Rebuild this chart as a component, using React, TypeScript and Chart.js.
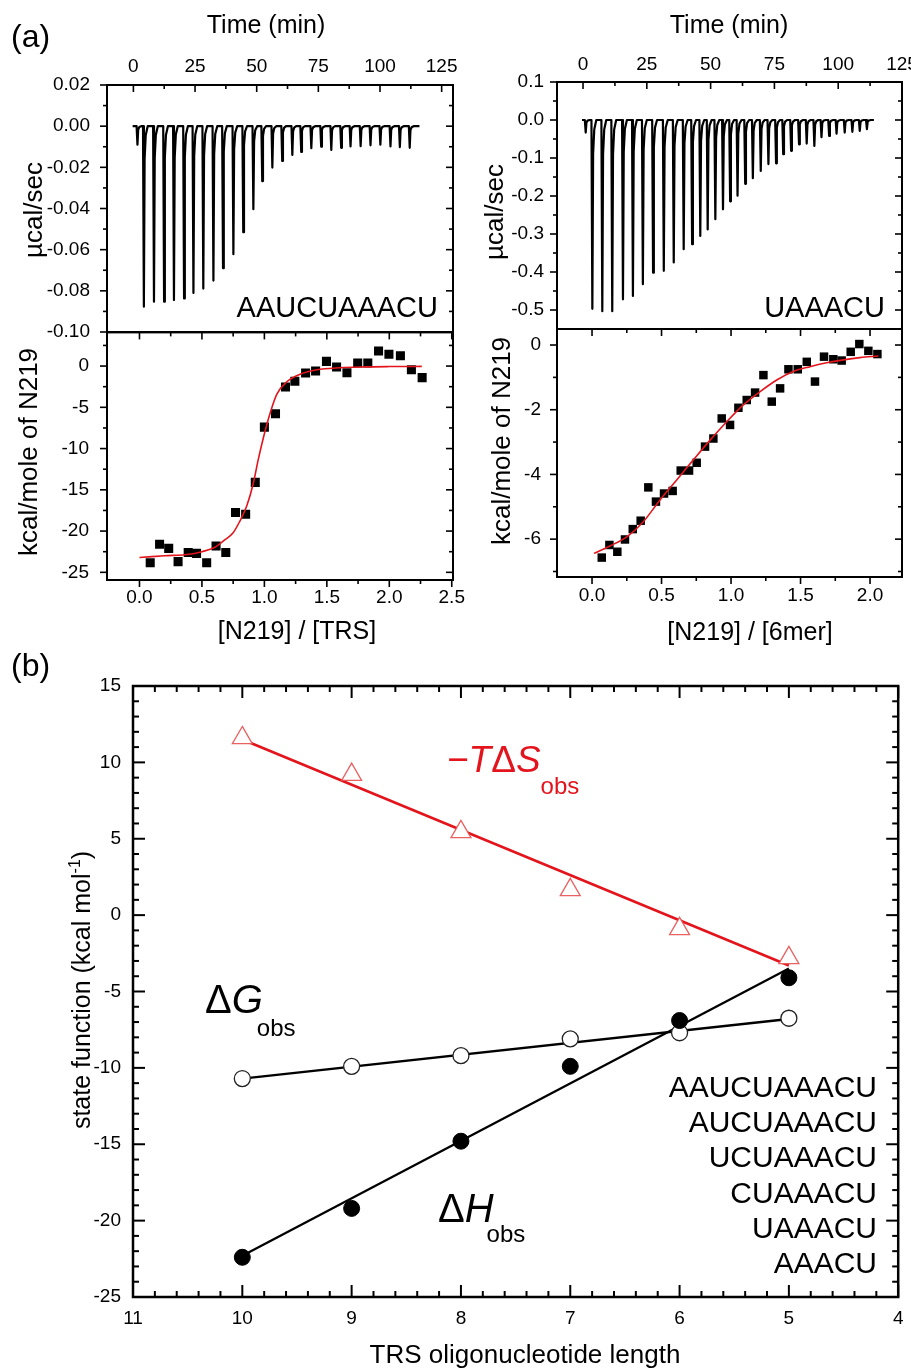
import React, { useEffect, useRef } from "react";
import { Chart, registerables } from "chart.js";

Chart.register(...registerables);

const FONT = "'Liberation Sans', Arial, Helvetica, sans-serif";
const RED = "#e3141c";
const TICK_FONT = 19;

// ================= (a) left : raw heat trace (AAUCUAAACU) =================
const timeTickValues = [0, 25, 50, 75, 100, 125];
const timeTickLabels = ["0", "25", "50", "75", "100", "125"];
const timeMinorTicks = [12.5, 37.5, 62.5, 87.5, 112.5];

const rawLeftInjectionTimes = [1.4, 4.0, 8.1, 12.2, 16.2, 20.3, 24.1, 28.1, 32.2, 36.1, 40.3, 44.3, 48.4, 52.0, 56.1, 60.1, 64.2, 67.8, 71.9, 75.9, 80.0, 84.0, 87.8, 91.9, 95.9, 99.9, 104.0, 107.8, 111.8];
const rawLeftPeaks = [-0.009, -0.0877, -0.0853, -0.0853, -0.0845, -0.0837, -0.081, -0.0789, -0.075, -0.069, -0.0622, -0.0515, -0.0403, -0.0267, -0.0201, -0.0169, -0.014, -0.0125, -0.0107, -0.01, -0.0115, -0.0105, -0.0098, -0.0097, -0.0093, -0.009, -0.0098, -0.0102, -0.0105];
const rawLeftTraceStart = -0.3;
const rawLeftTraceEnd = 116;
const rawLeftYTickValues = [-0.1, -0.08, -0.06, -0.04, -0.02, 0, 0.02];
const rawLeftYTickLabels = ["-0.10", "-0.08", "-0.06", "-0.04", "-0.02", "0.00", "0.02"];
const rawLeftYMinor = [-0.09, -0.07, -0.05, -0.03, -0.01, 0.01];

// ================= (a) left : integrated heats =================
const isoLeftRatio = [0.086, 0.161, 0.234, 0.309, 0.39, 0.457, 0.538, 0.613, 0.691, 0.769, 0.85, 0.927, 1.0, 1.089, 1.169, 1.244, 1.33, 1.41, 1.497, 1.578, 1.661, 1.747, 1.828, 1.914, 1.997, 2.089, 2.177, 2.263];
const isoLeftHeat = [-23.85, -21.6, -22.1, -23.7, -22.6, -22.7, -23.85, -21.8, -22.6, -17.75, -17.95, -14.1, -7.4, -5.77, -2.54, -1.85, -0.85, -0.6, 0.57, -0.12, -0.8, 0.36, 0.36, 1.82, 1.42, 1.26, -0.44, -1.4];
const isoLeftFitRatio = [0.0, 0.2, 0.4, 0.5, 0.6, 0.68, 0.75, 0.8, 0.86, 0.91, 0.95, 1.0, 1.05, 1.1, 1.18, 1.29, 1.42, 1.6, 1.8, 2.0, 2.26];
const isoLeftFitHeat = [-23.2, -23.0, -22.8, -22.5, -22.0, -21.1, -20.2, -18.9, -16.9, -14.3, -11.4, -8.2, -5.5, -3.4, -1.9, -0.97, -0.45, -0.2, -0.1, -0.06, -0.04];
const isoLeftXTickValues = [0, 0.5, 1, 1.5, 2, 2.5];
const isoLeftXTickLabels = ["0.0", "0.5", "1.0", "1.5", "2.0", "2.5"];
const isoLeftXMinor = [0.25, 0.75, 1.25, 1.75, 2.25];
const isoLeftYTickValues = [-25, -20, -15, -10, -5, 0];
const isoLeftYTickLabels = ["-25", "-20", "-15", "-10", "-5", "0"];
const isoLeftYMinor = [-22.5, -17.5, -12.5, -7.5, -2.5, 2.5];

// ================= (a) right : raw heat trace (UAAACU) =================
const rawRightInjectionTimes = [0.8, 3.4, 7.3, 11.2, 15.4, 19.3, 23.2, 27.2, 31.4, 35.3, 39.2, 42.5, 45.7, 48.6, 51.6, 54.6, 57.4, 60.3, 63.3, 66.3, 69.4, 72.4, 75.4, 78.2, 81.3, 84.4, 87.4, 90.4, 93.2, 96.2, 99.1, 102.3, 105.3, 108.2, 111.0];
const rawRightPeaks = [-0.033, -0.497, -0.503, -0.503, -0.472, -0.463, -0.432, -0.402, -0.397, -0.375, -0.34, -0.327, -0.305, -0.288, -0.261, -0.235, -0.214, -0.199, -0.168, -0.153, -0.134, -0.116, -0.114, -0.09, -0.081, -0.064, -0.062, -0.068, -0.045, -0.042, -0.036, -0.033, -0.031, -0.029, -0.024];
const rawRightTraceStart = -0.4;
const rawRightTraceEnd = 114;
const rawRightYTickValues = [-0.5, -0.4, -0.3, -0.2, -0.1, 0, 0.1];
const rawRightYTickLabels = ["-0.5", "-0.4", "-0.3", "-0.2", "-0.1", "0.0", "0.1"];
const rawRightYMinor = [-0.45, -0.35, -0.25, -0.15, -0.05, 0.05];

// ================= (a) right : integrated heats =================
const isoRightRatio = [0.07, 0.125, 0.182, 0.237, 0.293, 0.35, 0.405, 0.46, 0.518, 0.58, 0.638, 0.698, 0.753, 0.813, 0.873, 0.933, 0.993, 1.053, 1.113, 1.173, 1.233, 1.293, 1.353, 1.413, 1.48, 1.545, 1.604, 1.669, 1.736, 1.796, 1.861, 1.923, 1.988, 2.053];
const isoRightHeat = [-6.57, -6.18, -6.39, -6.01, -5.69, -5.43, -4.4, -4.84, -4.59, -4.51, -3.88, -3.88, -3.64, -3.14, -2.89, -2.27, -2.47, -1.94, -1.7, -1.47, -0.93, -1.75, -1.34, -0.75, -0.75, -0.52, -1.13, -0.36, -0.44, -0.48, -0.21, 0.03, -0.18, -0.28];
const isoRightFitRatio = [0.014, 0.129, 0.25, 0.369, 0.489, 0.609, 0.729, 0.849, 0.969, 1.089, 1.209, 1.329, 1.448, 1.568, 1.688, 1.808, 1.928, 2.06];
const isoRightFitHeat = [-6.44, -6.21, -5.93, -5.46, -4.79, -4.17, -3.55, -2.94, -2.37, -1.85, -1.44, -1.08, -0.82, -0.67, -0.55, -0.46, -0.39, -0.34];
const isoRightXTickValues = [0, 0.5, 1, 1.5, 2];
const isoRightXTickLabels = ["0.0", "0.5", "1.0", "1.5", "2.0"];
const isoRightXMinor = [0.25, 0.75, 1.25, 1.75];
const isoRightYTickValues = [-6, -4, -2, 0];
const isoRightYTickLabels = ["-6", "-4", "-2", "0"];
const isoRightYMinor = [-7, -5, -3, -1];

// ================= (b) state functions vs TRS length =================
const trsLength = [10, 9, 8, 7, 6, 5];
const minusTdS = [11.6, 9.2, 5.45, 1.65, -0.9, -2.8];
const deltaG = [-10.7, -9.9, -9.2, -8.1, -7.7, -6.75];
const deltaH = [-22.4, -19.2, -14.8, -9.9, -6.9, -4.1];
const fitLength = [10, 5];
const fitMinusTdS = [11.5, -3.3];
const fitDeltaG = [-10.7, -6.8];
const fitDeltaH = [-22.3, -3.5];
const trsSequences = ["AAUCUAAACU", "AUCUAAACU", "UCUAAACU", "CUAAACU", "UAAACU", "AAACU"];
const bXTickValues = [4, 5, 6, 7, 8, 9, 10, 11];
const bXTickLabels = ["4", "5", "6", "7", "8", "9", "10", "11"];
const bYTickValues = [-25, -20, -15, -10, -5, 0, 5, 10, 15];
const bYTickLabels = ["-25", "-20", "-15", "-10", "-5", "0", "5", "10", "15"];

const bXMinor: number[] = [];
for (let i = 4; i < 11; i++) for (let k = 1; k < 5; k++) bXMinor.push(i + k * 0.2);
const bYMinor: number[] = [];
for (let v = -24; v < 15; v++) if (v % 5 !== 0) bYMinor.push(v);

// ---------------- helpers ----------------
function xy(xs: number[], ys: number[]) {
  return xs.map((x, i) => ({ x, y: ys[i] }));
}

// heat-trace line: baseline with a sharp spike at each injection time
function buildTrace(start: number, end: number, times: number[], peaks: number[]) {
  const pts: { x: number; y: number }[] = [{ x: start, y: 0 }];
  times.forEach((t, i) => {
    const d = peaks[i];
    pts.push({ x: t - 0.1, y: 0 });
    pts.push({ x: t + 0.25, y: d });
    pts.push({ x: t + 0.55, y: d * 0.18 });
    pts.push({ x: t + 1.0, y: d * 0.05 });
    pts.push({ x: t + 1.8, y: 0 });
  });
  pts.push({ x: end, y: 0 });
  return pts;
}

function axis(position: string, min: number, max: number, values: number[], labels: string[], size: number, pad: number, reverse = false) {
  return {
    type: "linear",
    position,
    min,
    max,
    reverse,
    bounds: "data",
    grid: { display: false, drawTicks: false },
    border: { display: false },
    ticks: {
      font: { size: TICK_FONT, family: FONT },
      color: "#000",
      padding: pad,
      autoSkip: false,
      maxRotation: 0,
      minRotation: 0,
      callback: (_v: any, i: number) => labels[i],
    },
    afterBuildTicks: (s: any) => {
      s.ticks = values.map((v) => ({ value: v }));
    },
    afterFit: (s: any) => {
      if (s.isHorizontal()) s.height = size;
      else s.width = size;
      s.paddingLeft = 0;
      s.paddingRight = 0;
      s.paddingTop = 0;
      s.paddingBottom = 0;
    },
  };
}

type FrameCfg = {
  frameWidth: number;
  tickWidth: number;
  majorLen: number;
  minorLen: number;
  x: { major: number[]; minor: number[]; top?: string; bottom?: string };
  y: { major: number[]; minor: number[]; left?: string; right?: string };
};

function makeFramePlugin(cfg: FrameCfg) {
  return {
    id: "frameTicks",
    afterDatasetsDraw(chart: any) {
      const { ctx, chartArea: a, scales } = chart;
      const xs = scales.x;
      const ys = scales.y;
      ctx.save();
      ctx.strokeStyle = "#000";
      ctx.lineCap = "butt";
      const seg = (x1: number, y1: number, x2: number, y2: number) => {
        ctx.beginPath();
        ctx.moveTo(x1, y1);
        ctx.lineTo(x2, y2);
        ctx.stroke();
      };
      ctx.lineWidth = cfg.tickWidth;
      const xSide = (vals: number[], len: number, side: string, mode?: string) => {
        if (!mode) return;
        vals.forEach((v) => {
          const p = xs.getPixelForValue(v);
          if (p < a.left - 0.5 || p > a.right + 0.5) return;
          const y0 = side === "top" ? a.top : a.bottom;
          const dir = (side === "top" ? 1 : -1) * (mode === "in" ? 1 : -1);
          seg(p, y0, p, y0 + dir * len);
        });
      };
      const ySide = (vals: number[], len: number, side: string, mode?: string) => {
        if (!mode) return;
        vals.forEach((v) => {
          const p = ys.getPixelForValue(v);
          if (p < a.top - 0.5 || p > a.bottom + 0.5) return;
          const x0 = side === "left" ? a.left : a.right;
          const dir = (side === "left" ? 1 : -1) * (mode === "in" ? 1 : -1);
          seg(x0, p, x0 + dir * len, p);
        });
      };
      xSide(cfg.x.major, cfg.majorLen, "top", cfg.x.top);
      xSide(cfg.x.minor, cfg.minorLen, "top", cfg.x.top);
      xSide(cfg.x.major, cfg.majorLen, "bottom", cfg.x.bottom);
      xSide(cfg.x.minor, cfg.minorLen, "bottom", cfg.x.bottom);
      ySide(cfg.y.major, cfg.majorLen, "left", cfg.y.left);
      ySide(cfg.y.minor, cfg.minorLen, "left", cfg.y.left);
      ySide(cfg.y.major, cfg.majorLen, "right", cfg.y.right);
      ySide(cfg.y.minor, cfg.minorLen, "right", cfg.y.right);
      ctx.lineWidth = cfg.frameWidth;
      ctx.strokeRect(a.left, a.top, a.right - a.left, a.bottom - a.top);
      ctx.restore();
    },
  };
}

type Run = { t: string; size: number; italic?: boolean; dx?: number; dy?: number };
type TextItem = { x: number; y: number; align?: string; rot?: number; color?: string; runs: Run[] };

function makeTextPlugin(items: TextItem[]) {
  return {
    id: "texts",
    afterDraw(chart: any) {
      const ctx = chart.ctx;
      items.forEach((it) => {
        ctx.save();
        ctx.translate(it.x, it.y);
        if (it.rot) ctx.rotate(it.rot);
        ctx.fillStyle = it.color || "#000";
        ctx.textBaseline = "alphabetic";
        ctx.textAlign = "left";
        const fontOf = (r: Run) => `${r.italic ? "italic " : ""}${r.size}px ${FONT}`;
        let total = 0;
        it.runs.forEach((r) => {
          ctx.font = fontOf(r);
          total += ctx.measureText(r.t).width + (r.dx || 0);
        });
        let cx = it.align === "center" ? -total / 2 : it.align === "right" ? -total : 0;
        it.runs.forEach((r) => {
          ctx.font = fontOf(r);
          cx += r.dx || 0;
          ctx.fillText(r.t, cx, r.dy || 0);
          cx += ctx.measureText(r.t).width;
        });
        ctx.restore();
      });
    },
  };
}

const T = (t: string, size: number, extra: Partial<Run> = {}): Run => ({ t, size, ...extra });
const ROT = -Math.PI / 2;

const baseOptions = (padding: any, scales: any) => ({
  responsive: false,
  animation: false,
  events: [],
  layout: { padding },
  plugins: { legend: { display: false }, tooltip: { enabled: false }, title: { display: false } },
  scales,
});

// ---------------- chart configs ----------------
const configRawLeft = () => ({
  type: "line",
  data: {
    datasets: [
      {
        data: buildTrace(rawLeftTraceStart, rawLeftTraceEnd, rawLeftInjectionTimes, rawLeftPeaks),
        borderColor: "#000",
        borderWidth: 2.2,
        pointRadius: 0,
        tension: 0,
        borderJoinStyle: "round",
      },
    ],
  },
  options: baseOptions({ left: 0, top: 0, right: 17, bottom: 14 }, {
    x: axis("top", -10.7, 129.6, timeTickValues, timeTickLabels, 85, 7),
    y: axis("left", -0.1, 0.02, rawLeftYTickValues, rawLeftYTickLabels, 107, 17),
  }),
  plugins: [
    makeFramePlugin({
      frameWidth: 2, tickWidth: 1.6, majorLen: 7, minorLen: 4,
      x: { major: timeTickValues, minor: timeMinorTicks, top: "in" },
      y: { major: rawLeftYTickValues, minor: rawLeftYMinor, left: "out", right: "in" },
    }),
    makeTextPlugin([
      { x: 11, y: 47, runs: [T("(a)", 32)] },
      { x: 266, y: 33, align: "center", runs: [T("Time (min)", 25)] },
      { x: 42, y: 210, align: "center", rot: ROT, runs: [T("µcal/sec", 26)] },
      { x: 438, y: 317, align: "right", runs: [T(trsSequences[0], 29)] },
    ]),
  ],
});

const configIsoLeft = () => ({
  type: "scatter",
  data: {
    datasets: [
      {
        data: xy(isoLeftFitRatio, isoLeftFitHeat),
        showLine: true,
        borderColor: RED,
        borderWidth: 1.6,
        pointRadius: 0,
        cubicInterpolationMode: "monotone",
      },
      {
        data: xy(isoLeftRatio, isoLeftHeat),
        pointStyle: "rect",
        pointRadius: 6.4,
        backgroundColor: "#000",
        borderWidth: 0,
      },
    ],
  },
  options: baseOptions({ left: 0, top: 6, right: 17, bottom: 0 }, {
    x: axis("bottom", -0.26, 2.51, isoLeftXTickValues, isoLeftXTickLabels, 76, 6),
    y: axis("left", -25.93, 4.08, isoLeftYTickValues, isoLeftYTickLabels, 107, 18),
  }),
  plugins: [
    makeFramePlugin({
      frameWidth: 2, tickWidth: 1.6, majorLen: 7, minorLen: 4,
      x: { major: isoLeftXTickValues, minor: isoLeftXMinor, top: "in", bottom: "out" },
      y: { major: isoLeftYTickValues, minor: isoLeftYMinor, left: "out", right: "in" },
    }),
    makeTextPlugin([
      { x: 297, y: 313, align: "center", runs: [T("[N219] / [TRS]", 25)] },
      { x: 37, y: 126, align: "center", rot: ROT, runs: [T("kcal/mole of N219", 26)] },
    ]),
  ],
});

const configRawRight = () => ({
  type: "line",
  data: {
    datasets: [
      {
        data: buildTrace(rawRightTraceStart, rawRightTraceEnd, rawRightInjectionTimes, rawRightPeaks),
        borderColor: "#000",
        borderWidth: 2.2,
        pointRadius: 0,
        tension: 0,
        borderJoinStyle: "round",
      },
    ],
  },
  options: baseOptions({ left: 0, top: 0, right: 9, bottom: 5 }, {
    x: axis("top", -10.2, 125, timeTickValues, timeTickLabels, 82, 6),
    y: axis("left", -0.55, 0.1, rawRightYTickValues, rawRightYTickLabels, 97, 13),
  }),
  plugins: [
    makeFramePlugin({
      frameWidth: 2, tickWidth: 1.6, majorLen: 7, minorLen: 4,
      x: { major: timeTickValues, minor: timeMinorTicks, top: "in" },
      y: { major: rawRightYTickValues, minor: rawRightYMinor, left: "out", right: "in" },
    }),
    makeTextPlugin([
      { x: 269, y: 33, align: "center", runs: [T("Time (min)", 25)] },
      { x: 43, y: 212, align: "center", rot: ROT, runs: [T("µcal/sec", 26)] },
      { x: 425, y: 317, align: "right", runs: [T(trsSequences[4], 29)] },
    ]),
  ],
});

const configIsoRight = () => ({
  type: "scatter",
  data: {
    datasets: [
      {
        data: xy(isoRightFitRatio, isoRightFitHeat),
        showLine: true,
        borderColor: RED,
        borderWidth: 1.6,
        pointRadius: 0,
        cubicInterpolationMode: "monotone",
      },
      {
        data: xy(isoRightRatio, isoRightHeat),
        pointStyle: "rect",
        pointRadius: 6,
        backgroundColor: "#000",
        borderWidth: 0,
      },
    ],
  },
  options: baseOptions({ left: 0, top: 6, right: 9, bottom: 0 }, {
    x: axis("bottom", -0.252, 2.23, isoRightXTickValues, isoRightXTickLabels, 79, 7),
    y: axis("left", -7.17, 0.495, isoRightYTickValues, isoRightYTickLabels, 97, 16),
  }),
  plugins: [
    makeFramePlugin({
      frameWidth: 2, tickWidth: 1.6, majorLen: 7, minorLen: 4,
      x: { major: isoRightXTickValues, minor: isoRightXMinor, top: "in", bottom: "out" },
      y: { major: isoRightYTickValues, minor: isoRightYMinor, left: "out", right: "in" },
    }),
    makeTextPlugin([
      { x: 290, y: 317, align: "center", runs: [T("[N219] / [6mer]", 25)] },
      { x: 50, y: 118, align: "center", rot: ROT, runs: [T("kcal/mole of N219", 26)] },
    ]),
  ],
});

const configB = () => ({
  type: "scatter",
  data: {
    datasets: [
      {
        data: xy(trsLength, deltaH),
        pointStyle: "circle",
        pointRadius: 8,
        backgroundColor: "#000",
        borderColor: "#000",
        borderWidth: 1,
      },
      {
        data: xy(trsLength, deltaG),
        pointStyle: "circle",
        pointRadius: 8,
        backgroundColor: "#fff",
        borderColor: "#222",
        borderWidth: 1.3,
      },
      {
        data: xy(trsLength, minusTdS),
        pointStyle: "triangle",
        pointRadius: 11.5,
        backgroundColor: "#fff",
        borderColor: "rgba(232,80,80,0.9)",
        borderWidth: 1.3,
      },
      { data: xy(fitLength, fitDeltaH), showLine: true, borderColor: "#000", borderWidth: 2.3, pointRadius: 0 },
      { data: xy(fitLength, fitDeltaG), showLine: true, borderColor: "#000", borderWidth: 2.3, pointRadius: 0 },
      { data: xy(fitLength, fitMinusTdS), showLine: true, borderColor: RED, borderWidth: 2.6, pointRadius: 0 },
    ],
  },
  options: baseOptions({ left: 0, top: 46, right: 9, bottom: 0 }, {
    x: axis("bottom", 4, 11, bXTickValues, bXTickLabels, 74, 10, true),
    y: axis("left", -25, 15, bYTickValues, bYTickLabels, 133, 12),
  }),
  plugins: [
    makeFramePlugin({
      frameWidth: 2.5, tickWidth: 2, majorLen: 12, minorLen: 6,
      x: { major: bXTickValues, minor: bXMinor, top: "in", bottom: "in" },
      y: { major: bYTickValues, minor: bYMinor, left: "in", right: "in" },
    }),
    makeTextPlugin([
      { x: 11, y: 36, runs: [T("(b)", 32)] },
      { x: 525, y: 723, align: "center", runs: [T("TRS oligonucleotide length", 26)] },
      {
        x: 90, y: 350, align: "center", rot: ROT,
        runs: [T("state function (kcal mol", 25), T("-1", 16, { dy: -10 }), T(")", 25)],
      },
      {
        x: 447, y: 132, color: RED,
        runs: [T("\u2212T", 37, { italic: true }), T("\u0394", 37), T("S", 37, { italic: true }), T("obs", 24, { dy: 22, dx: 0 })],
      },
      { x: 205, y: 373, runs: [T("\u0394", 40), T("G", 40, { italic: true }), T("obs", 24, { dy: 23, dx: -6 })] },
      { x: 438, y: 582, runs: [T("\u0394", 40), T("H", 40, { italic: true }), T("obs", 24, { dy: 20, dx: -7 })] },
      ...trsSequences.map((s, i) => ({ x: 877, y: [457, 492, 527, 563, 598, 633][i], align: "right", runs: [T(s, 30)] })),
    ]),
  ],
});

function ChartCanvas({ left, top, width, height, config }: any) {
  const ref = useRef<HTMLCanvasElement | null>(null);
  useEffect(() => {
    const chart = new Chart(ref.current as HTMLCanvasElement, config() as any);
    return () => chart.destroy();
  }, []);
  return (
    <canvas
      ref={ref}
      width={width}
      height={height}
      style={{ position: "absolute", left, top, width, height }}
    />
  );
}

export default function App() {
  return (
    <div style={{ position: "absolute", left: 0, top: 0, width: 911, height: 1371, background: "#fff", overflow: "hidden" }}>
      <ChartCanvas left={0} top={326} width={470} height={330} config={configIsoLeft} />
      <ChartCanvas left={0} top={0} width={470} height={346} config={configRawLeft} />
      <ChartCanvas left={460} top={323} width={451} height={333} config={configIsoRight} />
      <ChartCanvas left={460} top={0} width={451} height={334} config={configRawRight} />
      <ChartCanvas left={0} top={640} width={911} height={731} config={configB} />
    </div>
  );
}
